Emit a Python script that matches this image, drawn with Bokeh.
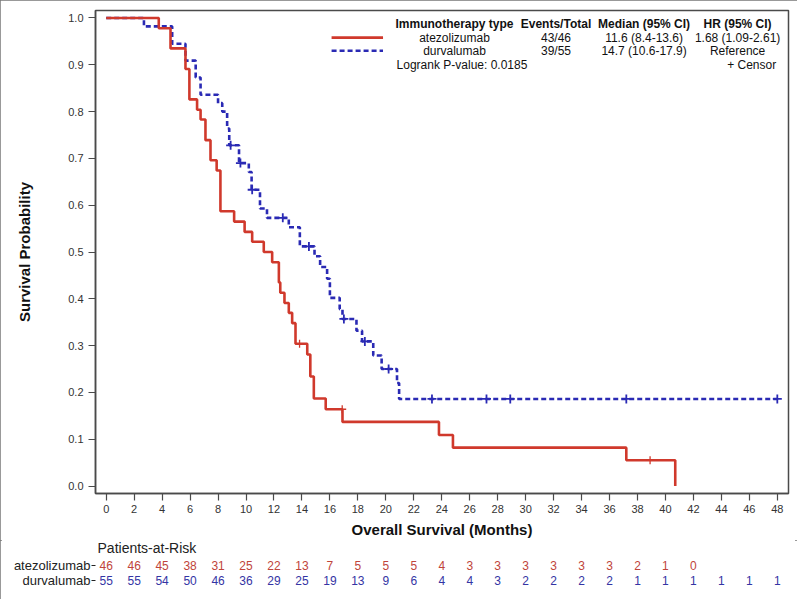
from bokeh.plotting import figure
from bokeh.layouts import column
from bokeh.models import (ColumnDataSource, FixedTicker, PrintfTickFormatter, Label,
                          Range1d)
from bokeh.embed import file_html
from bokeh.resources import INLINE
from bokeh.core.properties import value

FONT = "Liberation Sans"

# ---------------- data ----------------
atezo_time = [0, 3.76, 4.6, 5.67, 5.95, 6.5, 6.75, 7.1, 7.46, 7.9, 8.17, 9.15, 9.9,
              10.44, 11.27, 11.87, 12.35, 12.45, 12.75, 13.06, 13.3, 13.54, 14.38,
              14.6, 14.85, 15.7, 16.9, 23.8, 24.8, 37.2, 40.7]
atezo_surv = [1.0, 0.978, 0.935, 0.891, 0.826, 0.804, 0.783, 0.739, 0.696, 0.674, 0.587,
              0.565, 0.543, 0.522, 0.500, 0.478, 0.435, 0.413, 0.391, 0.370, 0.348, 0.304,
              0.281, 0.234, 0.187, 0.164, 0.137, 0.109, 0.082, 0.055, 0.0]
atezo_cens_time = [13.83, 16.88, 38.9]
atezo_cens_surv = [0.304, 0.164, 0.055]

durva_time = [0, 2.7, 4.72, 5.67, 6.4, 6.75, 8.0, 8.3, 8.65, 8.8, 9.5, 10.2, 10.4, 11.0,
              11.5, 13.06, 13.85, 14.9, 15.3, 15.8, 16.0, 16.7, 16.9, 17.9, 18.3, 19.1,
              19.7, 20.8, 20.95, 48.0]
durva_surv = [1.0, 0.982, 0.945, 0.909, 0.873, 0.836, 0.818, 0.800, 0.764, 0.728, 0.690,
              0.671, 0.633, 0.593, 0.573, 0.553, 0.512, 0.491, 0.468, 0.443, 0.402, 0.378,
              0.357, 0.332, 0.309, 0.279, 0.250, 0.220, 0.186, 0.186]
durva_cens_time = [8.9, 9.6, 10.44, 12.63, 14.5, 17.0, 18.5, 20.2, 23.3, 27.2, 28.9, 37.2, 48.0]
durva_cens_surv = [0.728, 0.690, 0.633, 0.573, 0.512, 0.357, 0.309, 0.250, 0.186, 0.186,
                   0.186, 0.186, 0.186]

x_ticks = [0, 2, 4, 6, 8, 10, 12, 14, 16, 18, 20, 22, 24, 26, 28, 30, 32, 34, 36, 38, 40,
           42, 44, 46, 48]
y_ticks = [0.0, 0.1, 0.2, 0.3, 0.4, 0.5, 0.6, 0.7, 0.8, 0.9, 1.0]

risk_times_atezo = [0, 2, 4, 6, 8, 10, 12, 14, 16, 18, 20, 22, 24, 26, 28, 30, 32, 34, 36,
                    38, 40, 42]
risk_atezo = [46, 46, 45, 38, 31, 25, 22, 13, 7, 5, 5, 5, 4, 3, 3, 3, 3, 3, 3, 2, 1, 0]
risk_times_durva = x_ticks
risk_durva = [55, 55, 54, 50, 46, 36, 29, 25, 19, 13, 9, 6, 4, 4, 3, 2, 2, 2, 2, 1, 1, 1,
              1, 1, 1]

group_names = ["atezolizumab", "durvalumab"]
events_total = ["43/46", "39/55"]
median_ci = ["11.6 (8.4-13.6)", "14.7 (10.6-17.9)"]
hr_ci = ["1.68 (1.09-2.61)", "Reference"]
logrank_text = "Logrank P-value: 0.0185"

RED = "#d0392c"
BLUE = "#2a2ab4"
RED_TXT = "#c0443a"
BLUE_TXT = "#3434a4"
AXIS = "#4a4a4a"
TXT = "#333333"

x_range = Range1d(-0.765, 48.8)

# ---------------- main figure ----------------
p = figure(frame_width=693, frame_height=483,
           min_border_left=95, min_border_right=9, min_border_top=10, min_border_bottom=45,
           x_range=x_range, y_range=Range1d(-0.016, 1.016),
           output_backend="svg", toolbar_location=None)
p.grid.visible = False
p.outline_line_color = AXIS
p.outline_line_width = 1.5
p.background_fill_color = "white"
p.border_fill_color = "white"

for ax in (p.xaxis[0], p.yaxis[0]):
    ax.axis_line_color = AXIS
    ax.axis_line_width = 1.5
    ax.major_tick_line_color = AXIS
    ax.major_tick_line_width = 1.2
    ax.major_tick_out = 7
    ax.major_tick_in = 0
    ax.minor_tick_line_color = None
    ax.major_label_text_font = FONT
    ax.major_label_text_font_size = "11px"
    ax.major_label_text_color = TXT
    ax.axis_label_text_font = FONT
    ax.axis_label_text_font_size = "15px"
    ax.axis_label_text_font_style = "bold"
    ax.axis_label_text_color = "#111111"

p.xaxis.ticker = FixedTicker(ticks=x_ticks)
p.yaxis.ticker = FixedTicker(ticks=y_ticks)
p.yaxis.formatter = PrintfTickFormatter(format="%.1f")
p.xaxis.axis_label = "Overall Survival (Months)"
p.yaxis.axis_label = "Survival Probability"
p.xaxis.major_label_standoff = 4
p.xaxis.axis_label_standoff = 5
p.yaxis.major_label_standoff = 5
p.yaxis.axis_label_standoff = 32

# curves
p.step(durva_time, durva_surv, mode="after", line_color=BLUE, line_width=2.6,
       line_dash="5 3")
p.step(atezo_time, atezo_surv, mode="after", line_color=RED, line_width=2.6)
p.scatter(durva_cens_time, durva_cens_surv, marker="cross", size=9, line_color=BLUE,
          line_width=1.8)
p.scatter(atezo_cens_time, atezo_cens_surv, marker="cross", size=8, line_color=RED,
          line_width=1.3)

# ---------------- legend table (positions in data units) ----------------
def lab(fig, x, y, text, align="center", bold=False, color="#111111", size="12px"):
    fig.add_layout(Label(x=x, y=y, text=text, text_align=align, text_baseline="middle",
                         text_font=FONT, text_font_size=size, text_color=color,
                         text_font_style="bold" if bold else "normal"))

ROW_Y = [0.988, 0.958, 0.930, 0.899]
COL_X = [24.91, 32.17, 38.47, 45.16]
headers = ["Immunotherapy type", "Events/Total", "Median (95% CI)", "HR (95% CI)"]
for cx, h in zip(COL_X, headers):
    lab(p, cx, ROW_Y[0], h, bold=True)
for i in range(2):
    lab(p, COL_X[0], ROW_Y[i + 1], group_names[i])
    lab(p, COL_X[1], ROW_Y[i + 1], events_total[i])
    lab(p, COL_X[2], ROW_Y[i + 1], median_ci[i])
    lab(p, COL_X[3], ROW_Y[i + 1], hr_ci[i])
lab(p, 20.77, ROW_Y[3], logrank_text, align="left")
lab(p, 48.16, ROW_Y[3], "+  Censor", align="right")
p.line([16.12, 19.8], [ROW_Y[1], ROW_Y[1]], line_color=RED, line_width=2.6)
p.line([16.12, 19.8], [ROW_Y[2], ROW_Y[2]], line_color=BLUE, line_width=2.6,
       line_dash="5 3")

# ---------------- patients-at-risk table (second figure) ----------------
# rows: atezolizumab = 1, durvalumab = 0
r = figure(frame_width=693, frame_height=56,
           min_border_left=95, min_border_right=9, min_border_top=0, min_border_bottom=3,
           x_range=x_range, y_range=Range1d(-1.067, 2.667),
           output_backend="svg", toolbar_location=None)
r.grid.visible = False
r.outline_line_color = None
r.xaxis.visible = False
r.yaxis.ticker = FixedTicker(ticks=[0, 1])
r.yaxis.major_label_overrides = {0: group_names[1], 1: group_names[0]}
r.yaxis.axis_line_color = None
r.yaxis.major_tick_line_color = "#222222"
r.yaxis.major_tick_line_width = 1
r.yaxis.major_tick_out = 4
r.yaxis.major_tick_in = 0
r.yaxis.minor_tick_line_color = None
r.yaxis.major_label_standoff = 1
r.yaxis.major_label_text_font = FONT
r.yaxis.major_label_text_font_size = "13px"
r.yaxis.major_label_text_color = "#222222"

r.text(x=[-0.62], y=[2.2], text=["Patients-at-Risk"], text_align="left",
       text_baseline="middle", text_font=value(FONT), text_font_size="14px",
       text_color="#222222")

src_a = ColumnDataSource(dict(x=risk_times_atezo, y=[1] * len(risk_atezo),
                              t=[str(v) for v in risk_atezo]))
src_d = ColumnDataSource(dict(x=risk_times_durva, y=[0] * len(risk_durva),
                              t=[str(v) for v in risk_durva]))
r.text(x="x", y="y", text="t", source=src_a, text_align="center",
       text_baseline="middle", text_font=value(FONT), text_font_size="12px",
       text_color=RED_TXT)
r.text(x="x", y="y", text="t", source=src_d, text_align="center",
       text_baseline="middle", text_font=value(FONT), text_font_size="12px",
       text_color=BLUE_TXT)

layout = column(p, r, spacing=0,
                styles={"outline": "2px solid #777777", "outline-offset": "-2px"})
open("out.html", "w").write(file_html(layout, INLINE))
